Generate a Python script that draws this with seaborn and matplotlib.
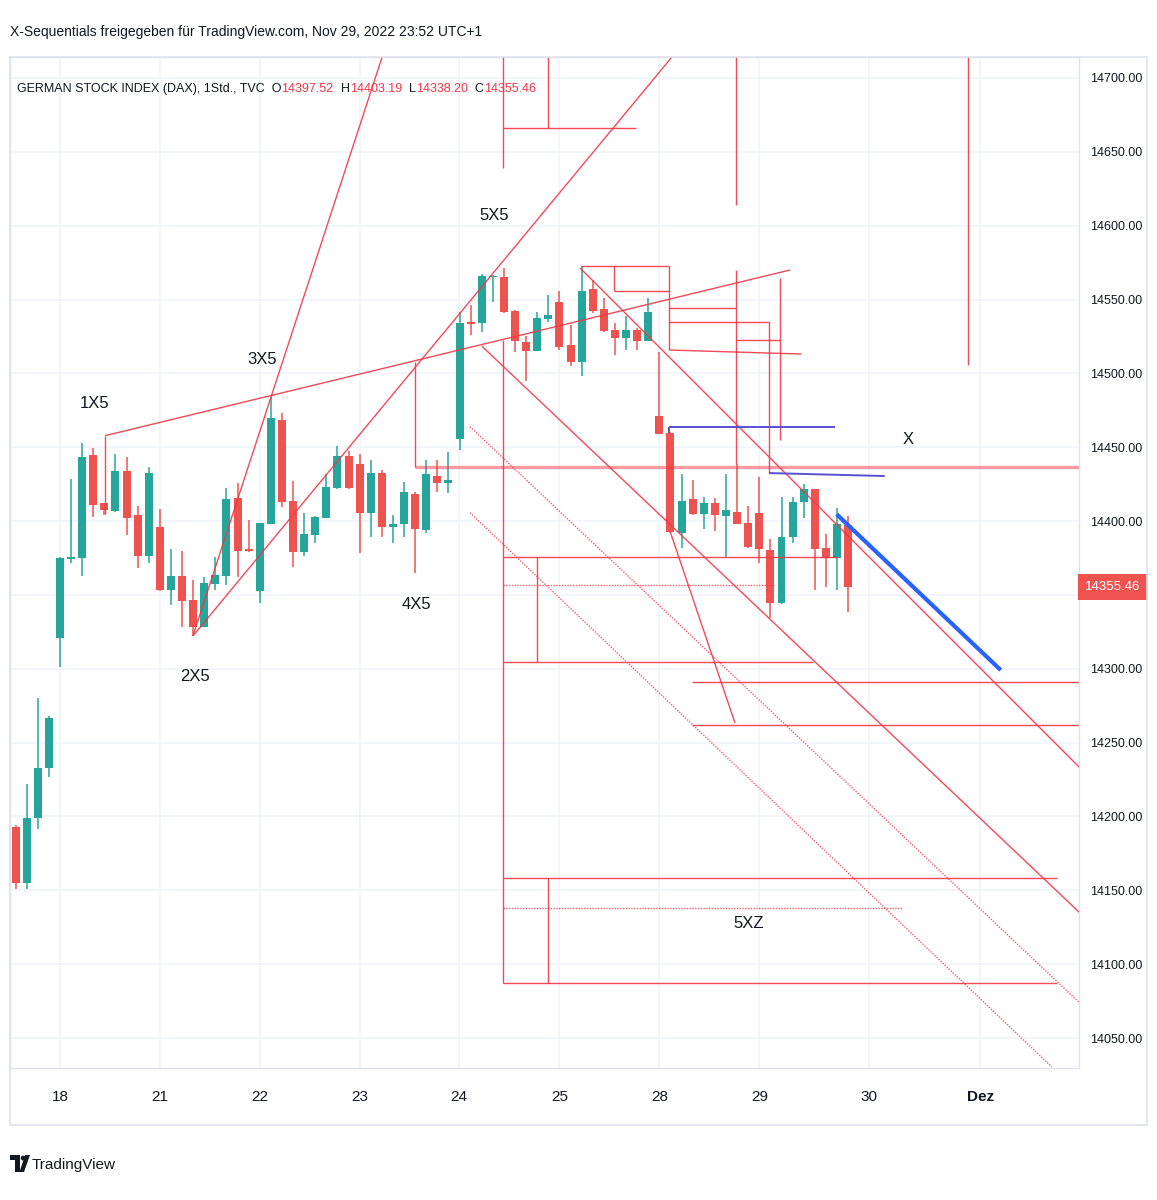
import numpy as np
import pandas as pd
import matplotlib
matplotlib.use("Agg")
import matplotlib.pyplot as plt
import seaborn as sns
from matplotlib import font_manager
from matplotlib.offsetbox import TextArea, HPacker, AnchoredOffsetbox
from matplotlib.patches import Rectangle, Polygon, Circle


# ---- candles (1h DAX, bar 0 = first bar of the 18th) ----
bar_start = -4
opens = [14193.1, 14154.7, 14199.2, 14232.6,
         14320.6, 14374.3, 14375.2, 14444.9, 14412.0, 14407.0, 14433.7, 14404.3, 14376.3,
         14395.8, 14353.3, 14362.6, 14346.6, 14328.1, 14357.4, 14362.8, 14415.6, 14381.0,
         14352.6, 14398.0, 14468.4, 14413.8, 14379.1, 14390.6, 14401.9, 14422.4, 14444.1,
         14438.4, 14405.7, 14432.8, 14396.2, 14398.0, 14418.3, 14394.0, 14430.5, 14425.6,
         14455.6, 14534.5, 14533.9, 14565.0, 14565.5, 14542.4, 14521.4, 14515.4, 14536.8,
         14548.5, 14519.2, 14507.9, 14556.9, 14543.4, 14529.4, 14523.7, 14529.4, 14522.1,
         14471.3, 14459.4, 14392.1, 14414.7, 14404.8, 14412.0, 14403.4, 14406.3, 14398.5,
         14405.3, 14380.4, 14344.3, 14389.4, 14413.1, 14421.5, 14381.6, 14375.2, 14397.52]
highs = [14194.0, 14222.0, 14280.0, 14268.0,
         14376.0, 14428.3, 14453.1, 14449.3, 14412.5, 14445.4, 14443.6, 14410.2, 14436.4,
         14408.0, 14380.9, 14379.7, 14360.1, 14361.9, 14375.9, 14422.2, 14426.0, 14400.7,
         14399.0, 14484.2, 14473.0, 14427.3, 14405.3, 14403.4, 14431.9, 14450.8, 14447.6,
         14445.4, 14441.3, 14434.6, 14404.1, 14426.2, 14420.0, 14441.3, 14441.3, 14447.0,
         14541.8, 14546.3, 14567.0, 14566.5, 14571.1, 14543.0, 14525.3, 14541.8, 14553.1,
         14556.0, 14532.8, 14572.7, 14563.2, 14550.8, 14534.3, 14538.8, 14531.0, 14550.8,
         14514.7, 14460.0, 14431.9, 14427.8, 14416.5, 14415.4, 14431.9, 14438.6, 14410.2,
         14429.6, 14388.0, 14416.5, 14416.5, 14425.1, 14422.0, 14391.0, 14408.6, 14403.19]
lows = [14150.7, 14150.7, 14191.3, 14226.5,
        14301.4, 14371.4, 14362.8, 14403.0, 14404.1, 14406.3, 14390.4, 14368.4, 14371.4,
        14352.9, 14343.0, 14328.1, 14322.2, 14328.0, 14353.3, 14356.7, 14362.3, 14379.0,
        14344.7, 14398.0, 14409.3, 14368.7, 14376.3, 14385.0, 14401.9, 14421.5, 14422.0,
        14378.2, 14389.4, 14389.0, 14385.0, 14389.0, 14364.6, 14392.1, 14419.9, 14418.8,
        14448.1, 14526.0, 14528.2, 14548.5, 14541.0, 14514.7, 14495.0, 14515.0, 14535.0,
        14515.8, 14505.0, 14498.2, 14541.1, 14528.0, 14512.4, 14515.8, 14515.8, 14522.0,
        14459.0, 14392.0, 14382.0, 14404.0, 14394.4, 14393.5, 14375.9, 14398.0, 14382.0,
        14371.4, 14334.2, 14344.0, 14385.0, 14401.9, 14353.3, 14355.6, 14353.3, 14338.20]
closes = [14154.7, 14198.7, 14233.0, 14266.9,
          14374.8, 14375.7, 14443.2, 14411.1, 14407.5, 14433.7, 14402.1, 14376.3, 14432.8,
          14353.3, 14362.6, 14345.9, 14328.1, 14357.9, 14363.5, 14414.7, 14379.9, 14379.5,
          14398.5, 14469.6, 14413.1, 14379.1, 14391.0, 14402.5, 14423.3, 14444.1, 14422.6,
          14405.7, 14432.8, 14396.2, 14398.0, 14419.5, 14394.4, 14431.7, 14425.6, 14427.8,
          14533.9, 14533.5, 14566.1, 14566.0, 14541.8, 14522.1, 14515.4, 14537.3, 14539.5,
          14518.1, 14507.9, 14556.0, 14542.4, 14528.9, 14523.7, 14529.4, 14522.1, 14541.8,
          14459.0, 14392.8, 14413.8, 14404.8, 14412.0, 14404.1, 14407.5, 14398.0, 14382.6,
          14380.9, 14344.3, 14389.4, 14412.7, 14421.5, 14381.1, 14375.2, 14397.8, 14355.46]

last_close = 14355.46

# ---- axes ----
day_pos = [0, 9, 18, 27, 35.95, 45, 54, 63, 72.9, 82.9]
day_labels = ["18", "21", "22", "23", "24", "25", "28", "29", "30", "Dez"]
price_ticks = list(range(14050, 14701, 50))
x_range = (-4.5, 91.8)
y_range = (14029.7, 14714.2)

# ---- drawings: (bar1, price1, bar2, price2) ----
red_lines = [
    (4.05, 14457.8, 65.77, 14570.0),      # long rising line from 1X5
    (4.05, 14457.8, 4.05, 14405.0),
    (11.98, 14322.2, 30.63, 14751.1),     # steep line 2X5 -> 3X5
    (11.98, 14322.2, 57.66, 14737.2),     # 2X5 -> 5X5
    (38.0, 14518.5, 91.9, 14134.6),       # descending channel
    (46.85, 14571.4, 91.9, 14232.8),
    (54.95, 14393.3, 60.81, 14263.3),
    (31.98, 14507.9, 31.98, 14436.3),
    (39.91, 14375.8, 70.0, 14375.8),
    (39.91, 14304.8, 67.84, 14304.8),
    (56.9, 14291.2, 91.9, 14291.2),
    (56.9, 14261.9, 91.9, 14261.9),
    (39.91, 14158.1, 89.79, 14158.1),
    (39.91, 14087.0, 89.79, 14087.0),
    (39.91, 14522.6, 39.91, 14087.0),
    (43.0, 14375.9, 43.0, 14304.8),
    (43.96, 14158.1, 43.96, 14087.0),
    (39.91, 14760.0, 39.91, 14639.1),
    (43.96, 14760.0, 43.96, 14666.3),
    (39.91, 14666.3, 51.89, 14666.3),
    (60.9, 14760.0, 60.9, 14614.0),
    (81.8, 14760.0, 81.8, 14505.7),
    (46.97, 14572.7, 54.9, 14572.7),
    (49.9, 14572.7, 49.9, 14556.0),
    (49.9, 14556.0, 54.9, 14556.0),
    (54.9, 14572.7, 54.9, 14515.8),
    (54.9, 14544.5, 60.86, 14544.5),
    (54.9, 14534.6, 63.87, 14534.6),
    (60.86, 14522.6, 64.9, 14522.6),
    (54.9, 14515.8, 66.8, 14513.1),
    (60.9, 14570.0, 60.9, 14438.6),
    (63.87, 14534.6, 63.87, 14432.5),
    (64.9, 14564.6, 64.9, 14454.9),
]
pink_lines = [(31.98, 14436.3, 91.9, 14436.3)]
dotted_lines = [
    (36.94, 14463.9, 91.9, 14073.5),
    (36.94, 14405.7, 89.34, 14030.5),
    (39.91, 14356.7, 64.4, 14356.7),
    (39.91, 14137.8, 75.83, 14137.8),
]
purple_lines = [
    (54.9, 14463.7, 69.82, 14463.7),
    (54.9, 14463.7, 54.9, 14459.4),
    (63.87, 14432.5, 74.3, 14430.5),
]
blue_lines = [(69.97, 14404.6, 84.75, 14299.1)]

labels = ["1X5", "3X5", "5X5", "2X5", "4X5", "X", "5XZ"]
label_bar = [3.15, 18.2, 39.1, 12.16, 32.07, 76.4, 62.07]
label_price = [14479.9, 14509.1, 14607.2, 14295.1, 14343.2, 14454.9, 14127.8]

GREEN = "#26a69a"
RED = "#ef5350"
LINE_RED = "#f23645"
TXT = "#131722"

sns.set_theme(style="white")
names = {f.name for f in font_manager.fontManager.ttflist}
narrow = "Liberation Sans Narrow" if "Liberation Sans Narrow" in names else "Liberation Sans"
plt.rcParams["font.family"] = [narrow, "DejaVu Sans"]

df = pd.DataFrame({"open": opens, "high": highs, "low": lows, "close": closes})
df["bar"] = np.arange(bar_start, bar_start + len(df))
df["up"] = df["close"] >= df["open"]
df["color"] = np.where(df["up"], GREEN, RED)
df["bottom"] = df[["open", "close"]].min(axis=1)
df["body"] = (df["close"] - df["open"]).abs().clip(lower=1.2)

W, H = 1157, 1200
fig = plt.figure(figsize=(W / 100, H / 100), dpi=100)
fig.patch.set_facecolor("white")
ax = fig.add_axes([10 / W, 1 - 1068 / H, (1079 - 10) / W, (1068 - 57) / H])
ax.set_facecolor("white")

ax.vlines(df["bar"], df["low"], df["high"], colors=df["color"], lw=1.1, zorder=3)
ax.bar(df["bar"], df["body"], bottom=df["bottom"], width=0.72, color=df["color"],
       linewidth=0, zorder=3)


def draw(lines, **kw):
    for x1, y1, x2, y2 in lines:
        ax.plot([x1, x2], [y1, y2], solid_capstyle="butt", **kw)


draw(red_lines, color=LINE_RED, lw=1.0, alpha=0.9, zorder=4)
draw(pink_lines, color=LINE_RED, lw=2.4, alpha=0.5, zorder=4)
draw(dotted_lines, color=LINE_RED, lw=1.0, ls=(0, (1, 1)), alpha=0.8, zorder=4)
draw(purple_lines, color="#5b4fd1", lw=1.4, zorder=4)
draw(blue_lines, color="#2962ff", lw=3.0, zorder=4)

for t, bx, py in zip(labels, label_bar, label_price):
    ax.text(bx, py, t, ha="center", va="center", fontsize=12, color=TXT, zorder=5)

ax.set_xlim(*x_range)
ax.set_ylim(*y_range)
ax.set_xticks(day_pos)
ax.set_xticklabels(day_labels)
ax.set_yticks(price_ticks)
# the 14350 label sits under the last-price tag, as in TradingView
ax.set_yticklabels(["" if abs(p - last_close) < 15 else f"{p:.2f}" for p in price_ticks])
ax.yaxis.tick_right()
ax.tick_params(axis="y", length=0, pad=8, labelsize=9, labelcolor=TXT)
ax.tick_params(axis="x", length=0, pad=16, labelsize=11, labelcolor=TXT)
for lbl in ax.get_xticklabels():
    if lbl.get_text() == "Dez":
        lbl.set_fontweight("bold")
ax.grid(True, color="#f0f3fa", lw=1.2)
ax.set_axisbelow(True)
for s in ax.spines.values():
    s.set_color("#e0e3eb")
    s.set_linewidth(1.0)

# last price tag on the price scale
ax.text(1.0318, last_close, f"{last_close:.2f}", transform=ax.get_yaxis_transform(),
        ha="center", va="center", color="white", fontsize=9.5, zorder=6, clip_on=False,
        bbox=dict(boxstyle="square,pad=0.55", fc=RED, ec="none"))

# outer frame
fig.add_artist(Rectangle((10 / W, 1 - 1125 / H), (1147 - 10) / W, (1125 - 57) / H,
                         transform=fig.transFigure, fill=False, ec="#e0e3eb", lw=1.2))

fig.text(10 / W, 1 - 32 / H,
         "X-Sequentials freigegeben für TradingView.com, Nov 29, 2022 23:52 UTC+1",
         va="center", ha="left", fontsize=10, color=TXT)

parts = [("GERMAN STOCK INDEX (DAX), 1Std., TVC  O", TXT), ("14397.52", LINE_RED),
         ("  H", TXT), ("14403.19", LINE_RED), ("  L", TXT), ("14338.20", LINE_RED),
         ("  C", TXT), ("14355.46", LINE_RED)]
boxes = [TextArea(s, textprops=dict(color=c, fontsize=9)) for s, c in parts]
header = AnchoredOffsetbox(loc="upper left", child=HPacker(children=boxes, pad=0, sep=0),
                           pad=0, borderpad=0, frameon=False,
                           bbox_to_anchor=(17 / W, 1 - 83 / H),
                           bbox_transform=fig.transFigure)
ax.add_artist(header)

# TradingView logo
fig.add_artist(Polygon([(10 / W, 1 - 1155 / H), (20 / W, 1 - 1155 / H), (20 / W, 1 - 1172 / H),
                        (15 / W, 1 - 1172 / H), (15 / W, 1 - 1160 / H), (10 / W, 1 - 1160 / H)],
                       closed=True, transform=fig.transFigure, fc="#131722", ec="none"))
fig.add_artist(Circle((23 / W, 1 - 1158 / H), 2.3 / W, transform=fig.transFigure,
                      fc="#131722", ec="none"))
fig.add_artist(Polygon([(25 / W, 1 - 1155 / H), (30 / W, 1 - 1155 / H), (24 / W, 1 - 1172 / H),
                        (19.5 / W, 1 - 1172 / H)],
                       closed=True, transform=fig.transFigure, fc="#131722", ec="none"))
fig.text(32 / W, 1 - 1165 / H, "TradingView", va="center", ha="left", fontsize=11, color=TXT)

fig.savefig("out.png", dpi=100, facecolor="white")
